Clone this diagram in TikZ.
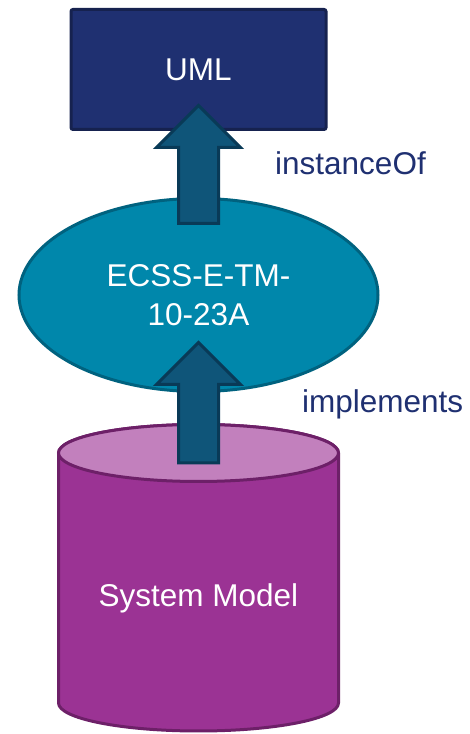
\documentclass[tikz,border=0pt]{standalone}
\usepackage{fontspec}
\setmainfont{Liberation Sans}
\usetikzlibrary{shapes.geometric,calc}

\definecolor{umlfill}{HTML}{1F3071}
\definecolor{umlline}{HTML}{16224F}
\definecolor{ecssfill}{HTML}{0087AB}
\definecolor{ecssline}{HTML}{00627F}
\definecolor{arrowfill}{HTML}{0F5579}
\definecolor{arrowline}{HTML}{093A57}
\definecolor{cylbody}{HTML}{9B3394}
\definecolor{cyltop}{HTML}{C280BD}
\definecolor{cylline}{HTML}{6D2068}
\definecolor{labelcol}{HTML}{1F3071}

\tikzset{
  bigtext/.style={font=\fontsize{31.5}{39}\selectfont},
  blockarrow/.style={draw=arrowline, fill=arrowfill, line width=3pt, line join=miter,
    to path={
      ($(\tikztostart)+(-20,0)$) -- ($(\tikztotarget)+(-20,-42)$)
      -- ($(\tikztotarget)+(-42,-42)$) -- (\tikztotarget)
      -- ($(\tikztotarget)+(42,-42)$) -- ($(\tikztotarget)+(20,-42)$)
      -- ($(\tikztostart)+(20,0)$) -- cycle}},
  relabel/.style={bigtext, text=labelcol, anchor=base west, inner sep=0pt}
}

\begin{document}
\begin{tikzpicture}[x=1pt, y=1pt]
  \path[use as bounding box] (0,0) rectangle (469,734);

  % UML metamodel box
  \node[bigtext, rectangle, rounded corners=2pt, draw=umlline, fill=umlfill, line width=3pt,
        text=white, minimum width=255pt, minimum height=120pt, inner sep=0pt]
        (uml) at (198.5,664.5) {UML};

  % ECSS standard ellipse
  \node[bigtext, ellipse, draw=ecssline, fill=ecssfill, line width=3pt, text=white,
        minimum width=359pt, minimum height=193pt, inner sep=0pt, align=center]
        (ecss) at (198.5,439) {ECSS-E-TM-\\10-23A};

  % instanceOf arrow
  \coordinate (a1s) at ($(ecss.north)+(0,-26.5)$);
  \coordinate (a1e) at ($(uml.south)+(0,25.5)$);
  \draw[blockarrow] (a1s) to (a1e);
  \node[relabel] (inst) at (275,559) {instanceOf};

  % System model cylinder
  \coordinate (cyltopc) at (198.5,281);
  \coordinate (cylbotc) at (198.5,31);
  \filldraw[fill=cylbody, draw=cylline, line width=3pt, line join=round]
    (58.5,281) -- (58.5,31) arc (180:360:140 and 28) -- (338.5,281)
    arc (0:180:140 and 28.5) -- cycle;
  \filldraw[fill=cyltop, draw=cylline, line width=3pt] (cyltopc) ellipse (140 and 28.5);
  \node[bigtext, text=white, anchor=base, inner sep=0pt] (sysmodel) at (198.5,127.3) {System Model};

  % implements arrow
  \coordinate (a2s) at ($(cyltopc)+(0,-10)$);
  \coordinate (a2e) at ($(ecss.south)+(0,50.5)$);
  \draw[blockarrow] (a2s) to (a2e);
  \node[relabel] (impl) at (302,321) {implements};
\end{tikzpicture}
\end{document}
